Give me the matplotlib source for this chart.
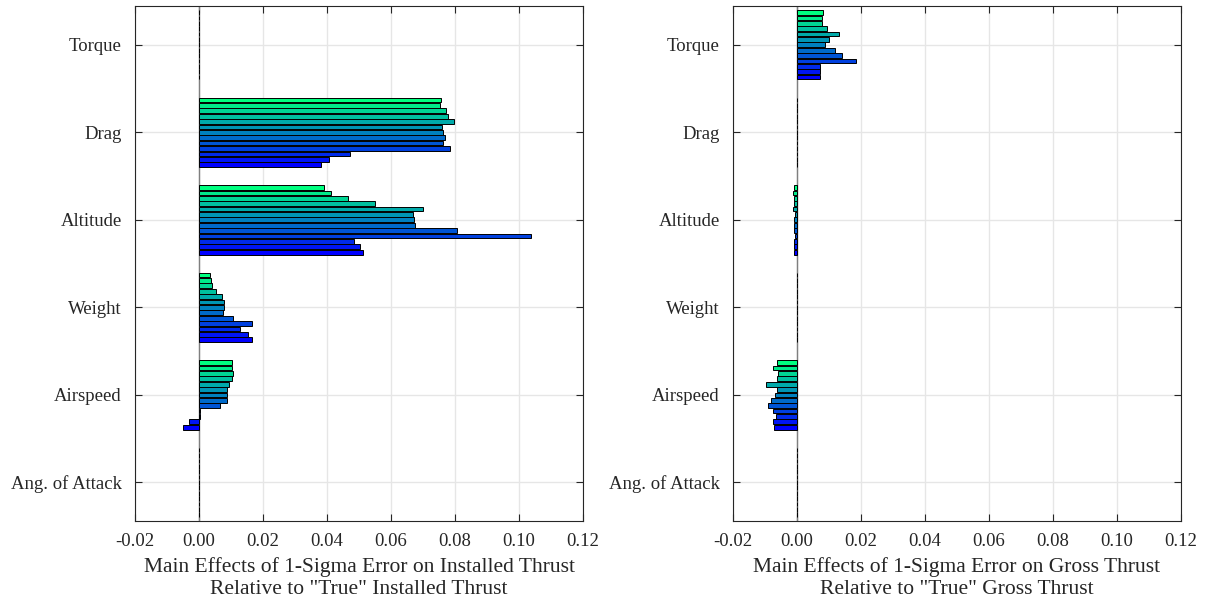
import numpy as np
import matplotlib
matplotlib.use("Agg")
import matplotlib.pyplot as plt

# categories, bottom to top
categories = ['Ang. of Attack', 'Airspeed', 'Weight', 'Altitude', 'Drag', 'Torque']

# each list holds the 13 cases, top bar first (green) to bottom bar (blue)
inst_aoa = [0.0] * 13
inst_airspeed = [0.0104, 0.0103, 0.0107, 0.0104, 0.0095, 0.0088, 0.0089,
                 0.0089, 0.0066, 0.0004, 0.0003, -0.0030, -0.0050]
inst_weight = [0.0034, 0.0039, 0.0042, 0.0053, 0.0073, 0.0077, 0.0077,
               0.0076, 0.0105, 0.0165, 0.0129, 0.0152, 0.0165]
inst_altitude = [0.0390, 0.0412, 0.0465, 0.0549, 0.0701, 0.0668, 0.0671,
                 0.0676, 0.0806, 0.1037, 0.0485, 0.0502, 0.0513]
inst_drag = [0.0755, 0.0752, 0.0772, 0.0779, 0.0797, 0.0760, 0.0763,
             0.0768, 0.0763, 0.0784, 0.0471, 0.0405, 0.0380]
inst_torque = [0.0] * 13

gross_aoa = [0.0] * 13
gross_airspeed = [-0.0064, -0.0076, -0.0058, -0.0061, -0.0096, -0.0061, -0.0070,
                  -0.0080, -0.0092, -0.0076, -0.0067, -0.0074, -0.0071]
gross_weight = [0.0] * 13
gross_altitude = [-0.0008, -0.0011, -0.0008, -0.0009, -0.0011, -0.0007, -0.0009,
                  -0.0008, -0.0009, -0.0006, -0.0009, -0.0009, -0.0009]
gross_drag = [0.0] * 13
gross_torque = [0.0080, 0.0077, 0.0077, 0.0093, 0.0132, 0.0100, 0.0088,
                0.0119, 0.0140, 0.0183, 0.0073, 0.0073, 0.0071]

xticks = [-0.02, 0.00, 0.02, 0.04, 0.06, 0.08, 0.10, 0.12]
xlabels = ['Main Effects of 1-Sigma Error on Installed Thrust\nRelative to "True" Installed Thrust',
           'Main Effects of 1-Sigma Error on Gross Thrust\nRelative to "True" Gross Thrust']

plt.rcParams['font.family'] = ['Liberation Serif', 'DejaVu Serif']
txt = '#262626'

fig = plt.figure(figsize=(12.07, 6.04), dpi=100)
ax1 = fig.add_axes([135 / 1207, 1 - 520.5 / 604, 448 / 1207, 514.2 / 604])
ax2 = fig.add_axes([733 / 1207, 1 - 520.5 / 604, 448 / 1207, 514.2 / 604])

panels = [
    (ax1, [inst_aoa, inst_airspeed, inst_weight, inst_altitude, inst_drag, inst_torque]),
    (ax2, [gross_aoa, gross_airspeed, gross_weight, gross_altitude, gross_drag, gross_torque]),
]

nser = 13
slot = 0.8 / nser
colors = plt.cm.winter(np.linspace(0, 1, nser))
ypos = np.arange(1, len(categories) + 1)

for (ax, groups), xl in zip(panels, xlabels):
    vals = np.array(groups)[:, ::-1]  # series 0 = bottom bar (blue)
    for j in range(nser):
        ax.barh(ypos + (j - (nser - 1) / 2) * slot, vals[:, j], height=slot * 0.88,
                color=colors[j], edgecolor='black', linewidth=0.7, zorder=3)
    ax.axvline(0, color='#7f7f7f', linewidth=1, zorder=2)
    ax.set_xlim(-0.02, 0.12)
    ax.set_ylim(0.565, 6.44)
    ax.set_xticks(xticks)
    ax.set_xticklabels([f'{t:.2f}' for t in xticks])
    ax.set_yticks(ypos)
    ax.set_yticklabels(categories)
    ax.grid(True, color='#e6e6e6', linewidth=1, zorder=0)
    ax.set_axisbelow(True)
    ax.tick_params(direction='in', top=True, right=True, length=5, width=0.8,
                   colors=txt, labelsize=13.5)
    ax.tick_params(axis='x', pad=9)
    ax.tick_params(axis='y', pad=9.5)
    for sp in ax.spines.values():
        sp.set_color(txt)
        sp.set_linewidth(0.8)
    ax.set_xlabel(xl, color=txt, fontsize=15.5, labelpad=5, linespacing=1.25)

plt.savefig('out.png', dpi=100)
